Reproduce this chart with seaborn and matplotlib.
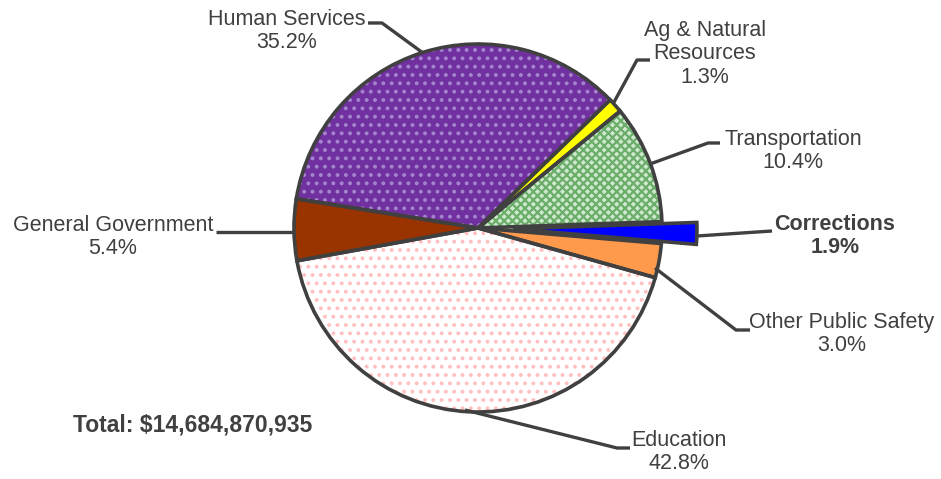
import matplotlib
matplotlib.use("Agg")
import matplotlib.pyplot as plt
import seaborn as sns

sns.set_theme(style="white")
plt.rcParams["font.family"] = ["Liberation Sans", "DejaVu Sans"]
plt.rcParams["hatch.linewidth"] = 1.6

# data (counter-clockwise from the right)
categories = ["Transportation", "Ag & Natural\nResources", "Human Services",
              "General Government", "Education", "Other Public Safety", "Corrections"]
shares = [10.4, 1.3, 35.2, 5.4, 42.8, 3.0, 1.9]
pct_labels = ["10.4%", "1.3%", "35.2%", "5.4%", "42.8%", "3.0%", "1.9%"]
total_label = "Total: $14,684,870,935"

face = ["#cfe8cf", "#ffff00", "#7030a0", "#993300", "#ffffff", "#ff9a4d", "#0000ff"]
dots = ["#6aae6a", "#ffff00", "#a484cc", "#993300", "#ffc0c0", "#ff9a4d", "#0000ff"]
hatches = ["xxxx", None, "..", None, "..", None, None]
explode = [0, 0, 0, 0, 0, 0, 0.19]

CX, CY, R = 478, 228, 184
ink = "#404040"


def p(x, y):
    return ((x - CX) / R, (CY - y) / R)


fig = plt.figure(figsize=(9.41, 4.79), dpi=100)
ax = fig.add_axes([0, 0, 1, 1])

# fill + texture
wedges, _ = ax.pie(shares, startangle=2, counterclock=True, explode=explode,
                   colors=face, radius=1)
for w, dc, h in zip(wedges, dots, hatches):
    w.set_edgecolor(dc)
    w.set_linewidth(0)
    if h:
        w.set_hatch(h)

# outlines
outl, _ = ax.pie(shares, startangle=2, counterclock=True, explode=explode,
                 colors=["none"] * len(shares), radius=1,
                 wedgeprops=dict(edgecolor=ink, linewidth=2.6, fill=False))

ax.set_xlim(-CX / R, (941 - CX) / R)
ax.set_ylim((CY - 479) / R, CY / R)
ax.set_aspect("auto")
ax.axis("off")

# leader lines (pixel waypoints)
leaders = [
    [(368, 23), (382, 23), (423, 53)],
    [(650, 60), (637, 60), (613, 104)],
    [(720, 143), (708, 143), (650, 164)],
    [(697, 236), (772, 231)],
    [(750, 330), (736, 330), (655, 268)],
    [(630, 448), (617, 448), (465, 410)],
    [(216, 232), (293, 232)],
]
for pts in leaders:
    xs, ys = zip(*[p(*q) for q in pts])
    ax.plot(xs, ys, color=ink, lw=2.4, solid_capstyle="butt")

# labels (pixel centres)
label_pos = {
    "Human Services": (287, 31),
    "Ag & Natural\nResources": (705, 54),
    "Transportation": (793, 151),
    "Corrections": (835, 236),
    "Other Public Safety": (842, 334),
    "Education": (679, 452),
    "General Government": (113, 237),
}
for cat, pct in zip(categories, pct_labels):
    x, y = label_pos[cat]
    bold = cat == "Corrections"
    ax.text(*p(x, y), f"{cat}\n{pct}", ha="center", va="center", color=ink,
            fontsize=15.5, fontweight="bold" if bold else "normal", linespacing=1.15)

ax.text(*p(73, 425), total_label, ha="left", va="center", color=ink,
        fontsize=16.5, fontweight="bold")

fig.savefig("out.png", dpi=100)
